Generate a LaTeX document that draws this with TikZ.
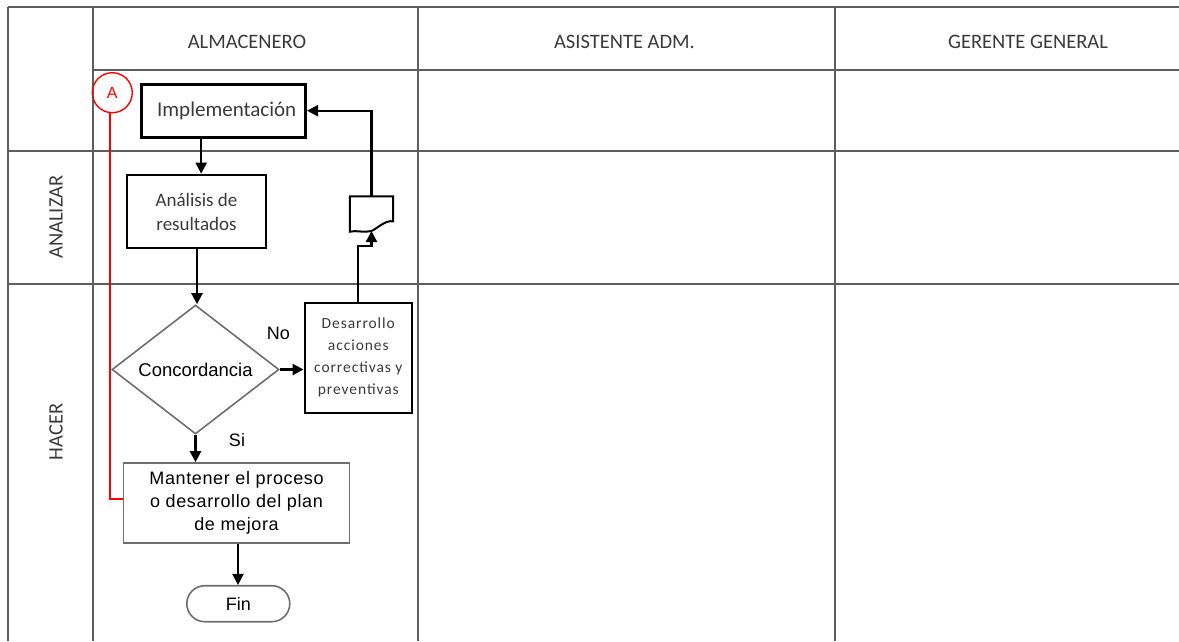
\documentclass[tikz,border=0pt]{standalone}
\usepackage{fontspec}
\setmainfont{Carlito}
\newfontfamily\arialfont{Liberation Sans}
\newfontfamily\arialspaced[LetterSpace=3.5]{Liberation Sans}
\newfontfamily\carlitospaced[LetterSpace=6]{Carlito}
\usetikzlibrary{arrows.meta,shapes.geometric,calc}
\definecolor{gridline}{HTML}{5E5E5E}
\definecolor{thinline}{HTML}{6E6E6E}
\definecolor{labeltext}{HTML}{3A3A3A}
\begin{document}
\begin{tikzpicture}[x=1pt,y=-1pt,
  gridl/.style={draw=gridline,line width=1.8pt},
  lanelabel/.style={text=labeltext,font=\fontsize{20.5}{24}\selectfont,inner sep=0pt},
  thickbox/.style={draw=black,line width=2.6pt,align=center,inner sep=0pt},
  thinbox/.style={draw=thinline,line width=1.6pt,align=center,inner sep=0pt},
  arr/.style={draw=black,line width=2.2pt,-{Triangle[length=11pt,width=11pt]}},
  redline/.style={draw=red,line width=2.2pt}]
\useasboundingbox (0,0) rectangle (1179,641);

% swimlane grid
\draw[gridl] (8,7) -- (1179,7);
\draw[gridl] (93,70) -- (1179,70);
\draw[gridl] (8,151) -- (1179,151);
\draw[gridl] (8,284) -- (1179,284);
\draw[gridl] (8,7) -- (8,641);
\draw[gridl] (93,7) -- (93,641);
\draw[gridl] (418,7) -- (418,641);
\draw[gridl] (835,7) -- (835,641);

% lane and phase headings
\node[lanelabel] (hAlm) at (247,42) {ALMACENERO};
\node[lanelabel] (hAsi) at (624.5,42) {ASISTENTE ADM.};
\node[lanelabel] (hGer) at (1028,42) {GERENTE GENERAL};
\node[lanelabel,rotate=90] (pAna) at (56,217) {ANALIZAR};
\node[lanelabel,rotate=90] (pHac) at (56,432) {HACER};

% process steps
\node[thickbox,minimum width=164,minimum height=53,text=labeltext,
  font=\fontsize{21}{24}\selectfont] (impl) at (223.7,110.7) {\hspace*{6pt}Implementación};
\node[thickbox,minimum width=139,minimum height=73,text=labeltext,
  font=\fontsize{19}{24}\selectfont] (anal) at (196.5,211.5) {Análisis de\\resultados};
\node[thinbox,shape=diamond,aspect=1.29,minimum width=167,minimum height=129,
  font=\arialfont\fontsize{18.5}{22}\selectfont] (conc) at (195.5,369.5) {Concordancia};
\node[thickbox,minimum width=107,minimum height=110,text=labeltext,
  font=\carlitospaced\fontsize{15.5}{22}\selectfont] (desa) at (358.3,357.8)
  {Desarrollo\\acciones\\correctivas y\\preventivas};
\node[thinbox,minimum width=226,minimum height=80,
  font=\arialspaced\fontsize{18}{23}\selectfont] (mant) at (236.5,503)
  {Mantener el proceso\\o desarrollo del plan\\de mejora};
\node[thinbox,minimum width=103,minimum height=36,rounded corners=18pt,
  font=\arialfont\fontsize{18}{22}\selectfont] (fin) at (238.3,603.7) {Fin};
\node[draw=red,line width=1.4pt,circle,minimum size=40,inner sep=0pt,text=red,
  font=\arialfont\fontsize{16}{18}\selectfont] (conA) at (112.3,92.7) {A};

% document symbol
\node[minimum width=43,minimum height=33,inner sep=0pt] (doc) at (371.5,213) {};
\draw[black,line width=2pt,fill=white]
  (doc.north west) -- (doc.north east) -- ++(0,25)
  .. controls (385,220) and (378,228) .. (371.5,231)
  .. controls (364,233) and (356,230) .. ([yshift=-2pt]doc.south west) -- cycle;

% branch labels
\node[font=\arialfont\fontsize{18}{22}\selectfont,inner sep=0pt] (lNo) at (278.5,333.5) {No};
\node[font=\arialfont\fontsize{18}{22}\selectfont,inner sep=0pt] (lSi) at (237,440) {Si};

% connectors
\coordinate (implOut) at ([xshift=-22.5pt]impl.south);
\draw[arr] (implOut) -- (implOut |- anal.north);
\draw[arr] ([xshift=0.5pt]anal.south) -- ([xshift=0.5pt]anal.south |- conc.north);
\draw[arr] (conc.east) -- (conc.east -| desa.west);
\draw[arr] (conc.south) -- (conc.south |- mant.north);
\coordinate (mantOut) at ([xshift=1.5pt]mant.south);
\draw[arr] (mantOut) -- (mantOut |- fin.north);
\coordinate (desaBend) at (desa.north |- 0,246);
\draw[arr] (desa.north) -- (desaBend) -- (desaBend -| doc.south) -- (371.5,231);
\coordinate (docTop) at (doc.north |- impl.east);
\draw[arr] (doc.north) -- (docTop) -- (impl.east);
\coordinate (redTop) at ([xshift=-2.3pt]conA.south);
\draw[redline] (redTop) -- (redTop |- 0,499) -- (mant.west |- 0,499);
\end{tikzpicture}
\end{document}
